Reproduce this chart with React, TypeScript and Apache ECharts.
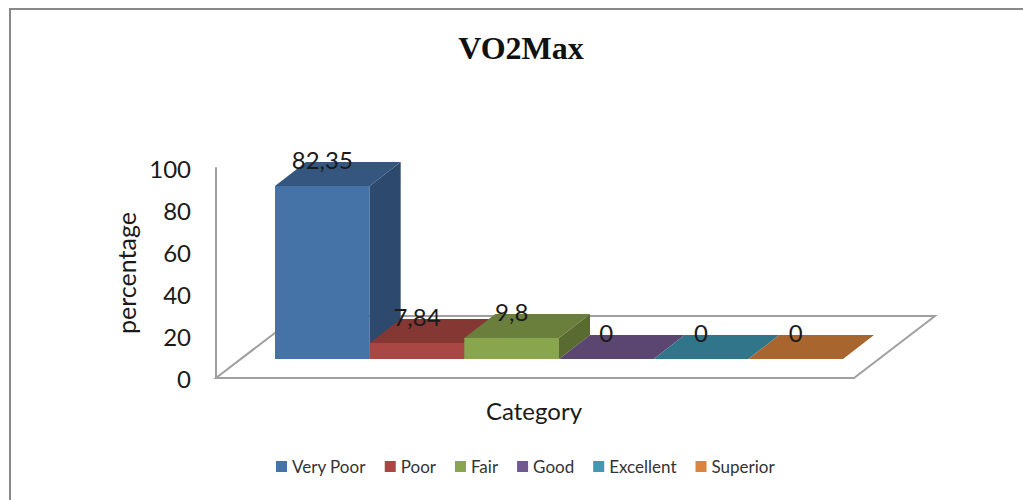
import React, { useEffect, useRef } from "react";
import * as echarts from "echarts";

const categories = ["Very Poor", "Poor", "Fair", "Good", "Excellent", "Superior"];
const values = [82.35, 7.84, 9.8, 0, 0, 0];
const valueLabels = ["82,35", "7,84", "9,8", "0", "0", "0"];
const frontColors = ["#4572A7", "#AA4643", "#89A54E", "#71588F", "#4198AF", "#DB843D"];
const topColors = ["#35577F", "#843733", "#6A7F3C", "#5A4670", "#31758A", "#A8652E"];
const sideColors = ["#2D4A6E", "#6E2D2B", "#5A6B32", "#4A3A5E", "#285F70", "#8A5325"];

const FONT = "Lato";
const DEPTH_X = 31;
const DEPTH_Y = 24;
const LIFT = 19;
const AXIS_OFFSET = 59;
const FLOOR_RIGHT = 11;
const FLOOR_X = 81;
const FLOOR_Y = 62;
const LINE = "#A0A0A0";

function barItem(i: number) {
  return (_params: any, api: any) => {
    const x = api.value(0);
    const v = api.value(1);
    const base = api.coord([x, 0]);
    const top = api.coord([x, v]);
    const w = api.size([1, 0])[0];
    const l = base[0] - w / 2;
    const r = base[0] + w / 2;
    const b = base[1] - LIFT;
    const t = Math.round(top[1] - LIFT);
    const children: any[] = [];
    if (v > 0) {
      children.push({
        type: "polygon",
        shape: { points: [[l, b], [r, b], [r, t], [l, t]] },
        style: { fill: frontColors[i] },
      });
      children.push({
        type: "polygon",
        shape: { points: [[r, b], [r + DEPTH_X, b - DEPTH_Y], [r + DEPTH_X, t - DEPTH_Y], [r, t]] },
        style: { fill: sideColors[i] },
      });
    }
    children.push({
      type: "polygon",
      shape: { points: [[l, t], [r, t], [r + DEPTH_X, t - DEPTH_Y], [l + DEPTH_X, t - DEPTH_Y]] },
      style: { fill: topColors[i] },
    });
    children.push({
      type: "text",
      style: {
        text: valueLabels[i],
        x: base[0],
        y: t - 27,
        align: "center",
        verticalAlign: "middle",
        fontFamily: FONT,
        fontSize: 24,
        fill: "#1a1a1a",
      },
    });
    return { type: "group", children };
  };
}

function floorItem(_params: any, api: any) {
  const first = api.coord([0, 0]);
  const last = api.coord([categories.length - 1, 0]);
  const w = api.size([1, 0])[0];
  const l = first[0] - w / 2 - AXIS_OFFSET;
  const r = last[0] + w / 2 + FLOOR_RIGHT;
  const y = first[1];
  return {
    type: "polygon",
    shape: { points: [[l, y], [r, y], [r + FLOOR_X, y - FLOOR_Y], [l + FLOOR_X, y - FLOOR_Y]] },
    style: { fill: "#fff", stroke: LINE, lineWidth: 2 },
  };
}

export default function App() {
  const ref = useRef<HTMLDivElement>(null);
  useEffect(() => {
    document.body.style.margin = "0";
    const chart = echarts.init(ref.current!, undefined, { renderer: "svg" });
    chart.setOption({
      animation: false,
      backgroundColor: "#fff",
      title: {
        text: "VO2Max",
        left: 516,
        top: 27,
        textAlign: "center",
        textStyle: { fontFamily: "Liberation Serif", fontWeight: "bold", fontSize: 32, color: "#111" },
      },
      grid: { left: 275, right: 180, top: 168, height: 210 },
      xAxis: {
        type: "category",
        data: categories,
        axisLine: { show: false },
        axisTick: { show: false },
        axisLabel: { show: false },
        name: "Category",
        nameLocation: "middle",
        nameGap: 20,
        nameTextStyle: { fontFamily: FONT, fontSize: 24, color: "#1a1a1a", padding: [0, 50, 0, 0] },
      },
      yAxis: {
        type: "value",
        min: 0,
        max: 100,
        interval: 20,
        offset: AXIS_OFFSET,
        axisLine: { show: true, lineStyle: { color: LINE, width: 2 } },
        axisTick: { show: false },
        splitLine: { show: false },
        axisLabel: { margin: 25, fontFamily: FONT, fontSize: 24, color: "#1a1a1a", padding: [0, 0, 2, 0] },
        name: "percentage",
        nameLocation: "middle",
        nameGap: 78,
        nameTextStyle: { fontFamily: FONT, fontSize: 25, color: "#1a1a1a" },
      },
      legend: {
        data: categories,
        left: 271,
        top: 453,
        itemWidth: 11,
        itemHeight: 11,
        itemGap: 19,
        icon: "rect",
        textStyle: { fontFamily: FONT, fontSize: 17, color: "#333" },
      },
      graphic: [
        {
          type: "polyline",
          silent: true,
          shape: { points: [[10, 500], [10, 9], [1023, 9]] },
          style: { stroke: "#888", lineWidth: 2, fill: "none" },
        },
      ],
      series: [
        {
          type: "custom",
          name: "floor",
          silent: true,
          renderItem: floorItem,
          data: [[0, 0]],
          encode: { x: 0, y: 1 },
        },
        ...categories.map((name, i) => ({
          type: "custom",
          name,
          itemStyle: { color: frontColors[i] },
          renderItem: barItem(i),
          data: [[i, values[i]]],
          encode: { x: 0, y: 1 },
        })),
      ],
    });
    return () => chart.dispose();
  }, []);
  return <div ref={ref} style={{ width: 1023, height: 500 }} />;
}
